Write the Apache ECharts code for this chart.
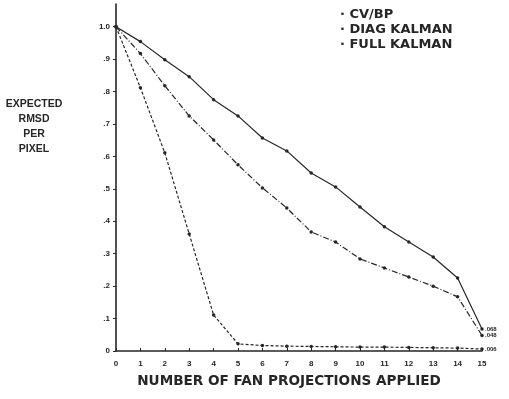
<!DOCTYPE html>
<html><head><meta charset="utf-8">
<script src="https://cdn.jsdelivr.net/npm/echarts@6/dist/echarts.min.js"></script>
<style>html,body{margin:0;padding:0;background:#fff}#c{width:509px;height:399px}</style>
</head><body><div id="c"></div>
<script>
const projections = [0,1,2,3,4,5,6,7,8,9,10,11,12,13,14,15];
const cvbp = [1.0,0.954,0.898,0.846,0.775,0.725,0.657,0.617,0.549,0.506,0.444,0.383,0.336,0.29,0.225,0.068];
const diagKalman = [1.0,0.917,0.818,0.725,0.651,0.574,0.503,0.441,0.367,0.336,0.284,0.256,0.228,0.2,0.167,0.048];
const fullKalman = [1.0,0.812,0.611,0.361,0.111,0.022,0.017,0.015,0.014,0.013,0.012,0.012,0.011,0.01,0.009,0.006];
const seriesNames = ['CV/BP','DIAG KALMAN','FULL KALMAN'];
const endLabels = ['.068','.048','.006'];
const yTickLabels = {0:'0',1:'.1',2:'.2',3:'.3',4:'.4',5:'.5',6:'.6',7:'.7',8:'.8',9:'.9',10:'1.0'};
const ink = '#262626';
const font = 'Liberation Sans, Arial, sans-serif';
const wide = '"DejaVu Sans", sans-serif';

const chart = echarts.init(document.getElementById('c'), null, {renderer:'canvas'});
function mk(name, data, dash, lbl){
  return {
    name, type:'line', data: projections.map((x,i)=>[x,data[i]]),
    symbol:'circle', symbolSize:3.5, itemStyle:{color:ink},
    lineStyle:{color:ink, width:1.2, type:dash}, animation:false,
    endLabel:{show:true, formatter:lbl, color:ink, fontSize:6, fontWeight:'bold', fontFamily:font, distance:3}
  };
}
chart.setOption({
  backgroundColor:'#fff',
  grid:{left:116, right:27, top:4, bottom:48},
  xAxis:{type:'value', min:0, max:15, interval:1,
    axisLine:{lineStyle:{color:ink, width:1.6}},
    axisTick:{show:true, length:3, inside:true, lineStyle:{color:ink}},
    axisLabel:{color:ink, fontSize:8, fontWeight:'bold', fontFamily:font, margin:9},
    splitLine:{show:false}},
  yAxis:{type:'value', min:0, max:1.07, interval:0.1,
    axisLine:{show:true, lineStyle:{color:ink, width:1.6}},
    axisTick:{show:true, length:3, lineStyle:{color:ink}},
    axisLabel:{color:ink, fontSize:8, fontWeight:'bold', fontFamily:font, margin:6, showMaxLabel:false,
      formatter:v=>{const k=Math.round(v*10); return (Math.abs(v*10-k)<1e-6 && yTickLabels[k]!==undefined)?yTickLabels[k]:'';}},
    splitLine:{show:false}},
  legend:{show:false},
  series:[
    mk(seriesNames[0], cvbp, 'solid', endLabels[0]),
    mk(seriesNames[1], diagKalman, [6,2,1,2], endLabels[1]),
    mk(seriesNames[2], fullKalman, [3,2], endLabels[2])
  ],
  graphic:[
    {type:'text', x:340, y:7, style:{text:'· '+seriesNames[0]+'\n· '+seriesNames[1]+'\n· '+seriesNames[2], fill:ink, font:'bold 13px '+wide, lineHeight:15}},
    {type:'text', x:34, y:96, style:{text:'EXPECTED\nRMSD\nPER\nPIXEL', fill:ink, font:'bold 10.5px '+font, lineHeight:15.3, textAlign:'center'}},
    {type:'text', x:289, y:374, style:{text:'NUMBER OF FAN PROJECTIONS APPLIED', fill:ink, font:'bold 13.6px '+wide, textAlign:'center'}}
  ]
});
</script></body></html>
